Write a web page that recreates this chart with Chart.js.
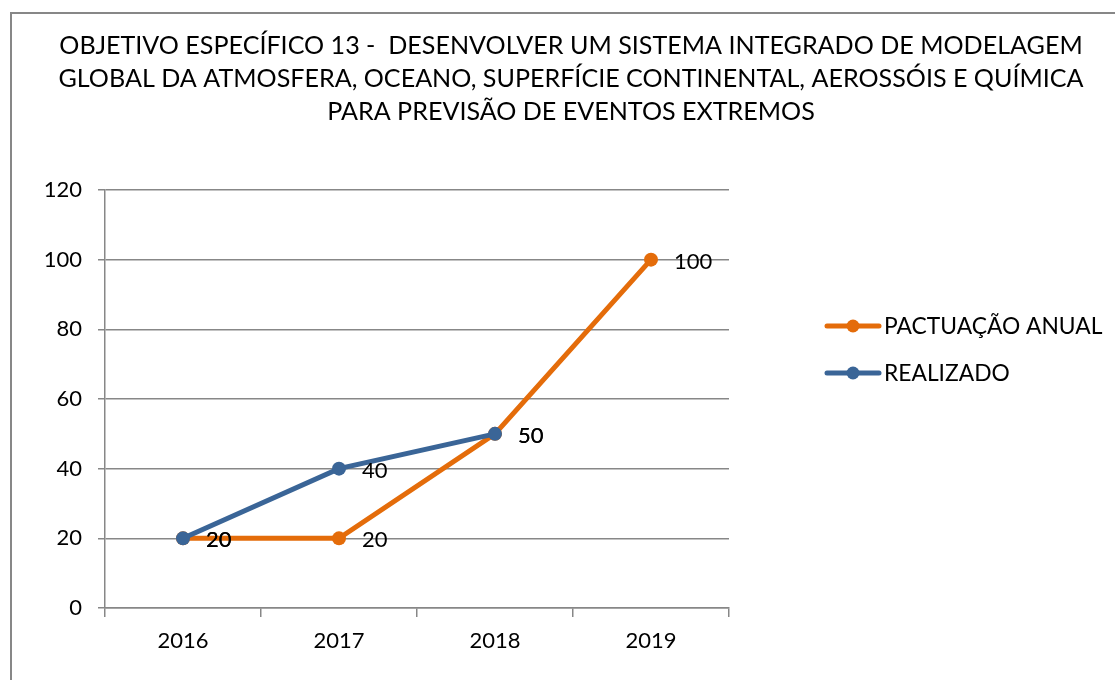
<!DOCTYPE html>
<html>
<head>
<meta charset="utf-8">
<script src="https://cdn.jsdelivr.net/npm/chart.js@4/dist/chart.umd.min.js"></script>
<style>
  html, body { margin: 0; padding: 0; background: #fff; overflow: hidden; }
  #wrap { position: relative; width: 1140px; height: 680px; }
</style>
</head>
<body>
<div id="wrap"><canvas id="chart"></canvas></div>
<script>
const titleLines = [
    'OBJETIVO ESPECÍFICO 13 -  DESENVOLVER UM SISTEMA INTEGRADO DE MODELAGEM',
    'GLOBAL DA ATMOSFERA, OCEANO, SUPERFÍCIE CONTINENTAL, AEROSSÓIS E QUÍMICA',
    'PARA PREVISÃO DE EVENTOS EXTREMOS'
];
const years = ['2016', '2017', '2018', '2019'];
const pactuacao = [20, 20, 50, 100];
const realizado = [20, 40, 50, null];
const yTicks = [0, 20, 40, 60, 80, 100, 120];

const FONT = "Lato, 'Open Sans', sans-serif";
const ORANGE = '#E46C0A';
const BLUE = '#3A6597';
const GRID = '#878787';

// Frame, title, legend and point labels drawn straight on the canvas
const decorations = {
    id: 'decorations',
    afterDraw(chart) {
        const ctx = chart.ctx;
        ctx.save();

        // outer frame (left + top only are visible)
        ctx.strokeStyle = GRID;
        ctx.lineWidth = 2;
        ctx.beginPath();
        ctx.moveTo(11, 680);
        ctx.lineTo(11, 13);
        ctx.lineTo(1140, 13);
        ctx.stroke();

        // title
        ctx.fillStyle = '#000';
        ctx.font = '25.1px ' + FONT;
        ctx.textAlign = 'center';
        ctx.textBaseline = 'middle';
        titleLines.forEach((line, i) => {
            ctx.fillText(line, 571, 46 + i * 33);
        });

        // value labels to the right of each point
        ctx.font = '22px ' + FONT;
        ctx.textAlign = 'left';
        chart.data.datasets.forEach((ds, di) => {
            const meta = chart.getDatasetMeta(di);
            meta.data.forEach((pt, i) => {
                const v = ds.data[i];
                if (v === null || v === undefined) return;
                ctx.fillText(String(v), pt.x + 23, pt.y + 2);
            });
        });

        // legend
        const items = [
            { label: 'PACTUAÇÃO ANUAL', color: ORANGE, y: 326 },
            { label: 'REALIZADO', color: BLUE, y: 373 }
        ];
        ctx.font = '22.8px ' + FONT;
        items.forEach(it => {
            ctx.strokeStyle = it.color;
            ctx.lineWidth = 5;
            ctx.lineCap = 'round';
            ctx.beginPath();
            ctx.moveTo(827, it.y);
            ctx.lineTo(879, it.y);
            ctx.stroke();
            ctx.fillStyle = it.color;
            ctx.beginPath();
            ctx.arc(853, it.y, 6.5, 0, Math.PI * 2);
            ctx.fill();
            ctx.fillStyle = '#000';
            ctx.fillText(it.label, 884, it.y + 1);
        });

        ctx.restore();
    }
};

new Chart(document.getElementById('chart'), {
    type: 'line',
    data: {
        labels: years,
        datasets: [
            {
                label: 'PACTUAÇÃO ANUAL',
                data: pactuacao,
                borderColor: ORANGE,
                backgroundColor: ORANGE,
                pointBackgroundColor: ORANGE,
                pointBorderColor: ORANGE,
                borderWidth: 5,
                pointRadius: 7,
                pointBorderWidth: 0,
                tension: 0,
                order: 1
            },
            {
                label: 'REALIZADO',
                data: realizado,
                borderColor: BLUE,
                backgroundColor: BLUE,
                pointBackgroundColor: BLUE,
                pointBorderColor: BLUE,
                borderWidth: 5,
                pointRadius: 7,
                pointBorderWidth: 0,
                tension: 0,
                order: 0
            }
        ]
    },
    options: {
        responsive: true,
        maintainAspectRatio: false,
        animation: false,
        events: [],
        layout: { padding: { left: 45, right: 411, top: 190, bottom: 22 } },
        plugins: {
            legend: { display: false },
            title: { display: false },
            tooltip: { enabled: false }
        },
        scales: {
            x: {
                offset: true,
                grid: {
                    offset: true,
                    drawOnChartArea: false,
                    color: GRID,
                    tickLength: 9,
                    lineWidth: 1.5
                },
                border: { color: GRID, width: 1.5 },
                ticks: {
                    color: '#000',
                    padding: 11,
                    font: { family: FONT, size: 22 }
                },
                afterFit: (scale) => { scale.height = 50; }
            },
            y: {
                min: 0,
                max: 120,
                afterBuildTicks: (scale) => {
                    scale.ticks = yTicks.map(v => ({ value: v }));
                },
                grid: {
                    color: GRID,
                    tickLength: 7,
                    lineWidth: 1.5
                },
                border: { color: GRID, width: 1.5 },
                ticks: {
                    color: '#000',
                    padding: 16,
                    font: { family: FONT, size: 22 }
                },
                afterFit: (scale) => { scale.width = 60; }
            }
        }
    },
    plugins: [decorations]
});
</script>
</body>
</html>
